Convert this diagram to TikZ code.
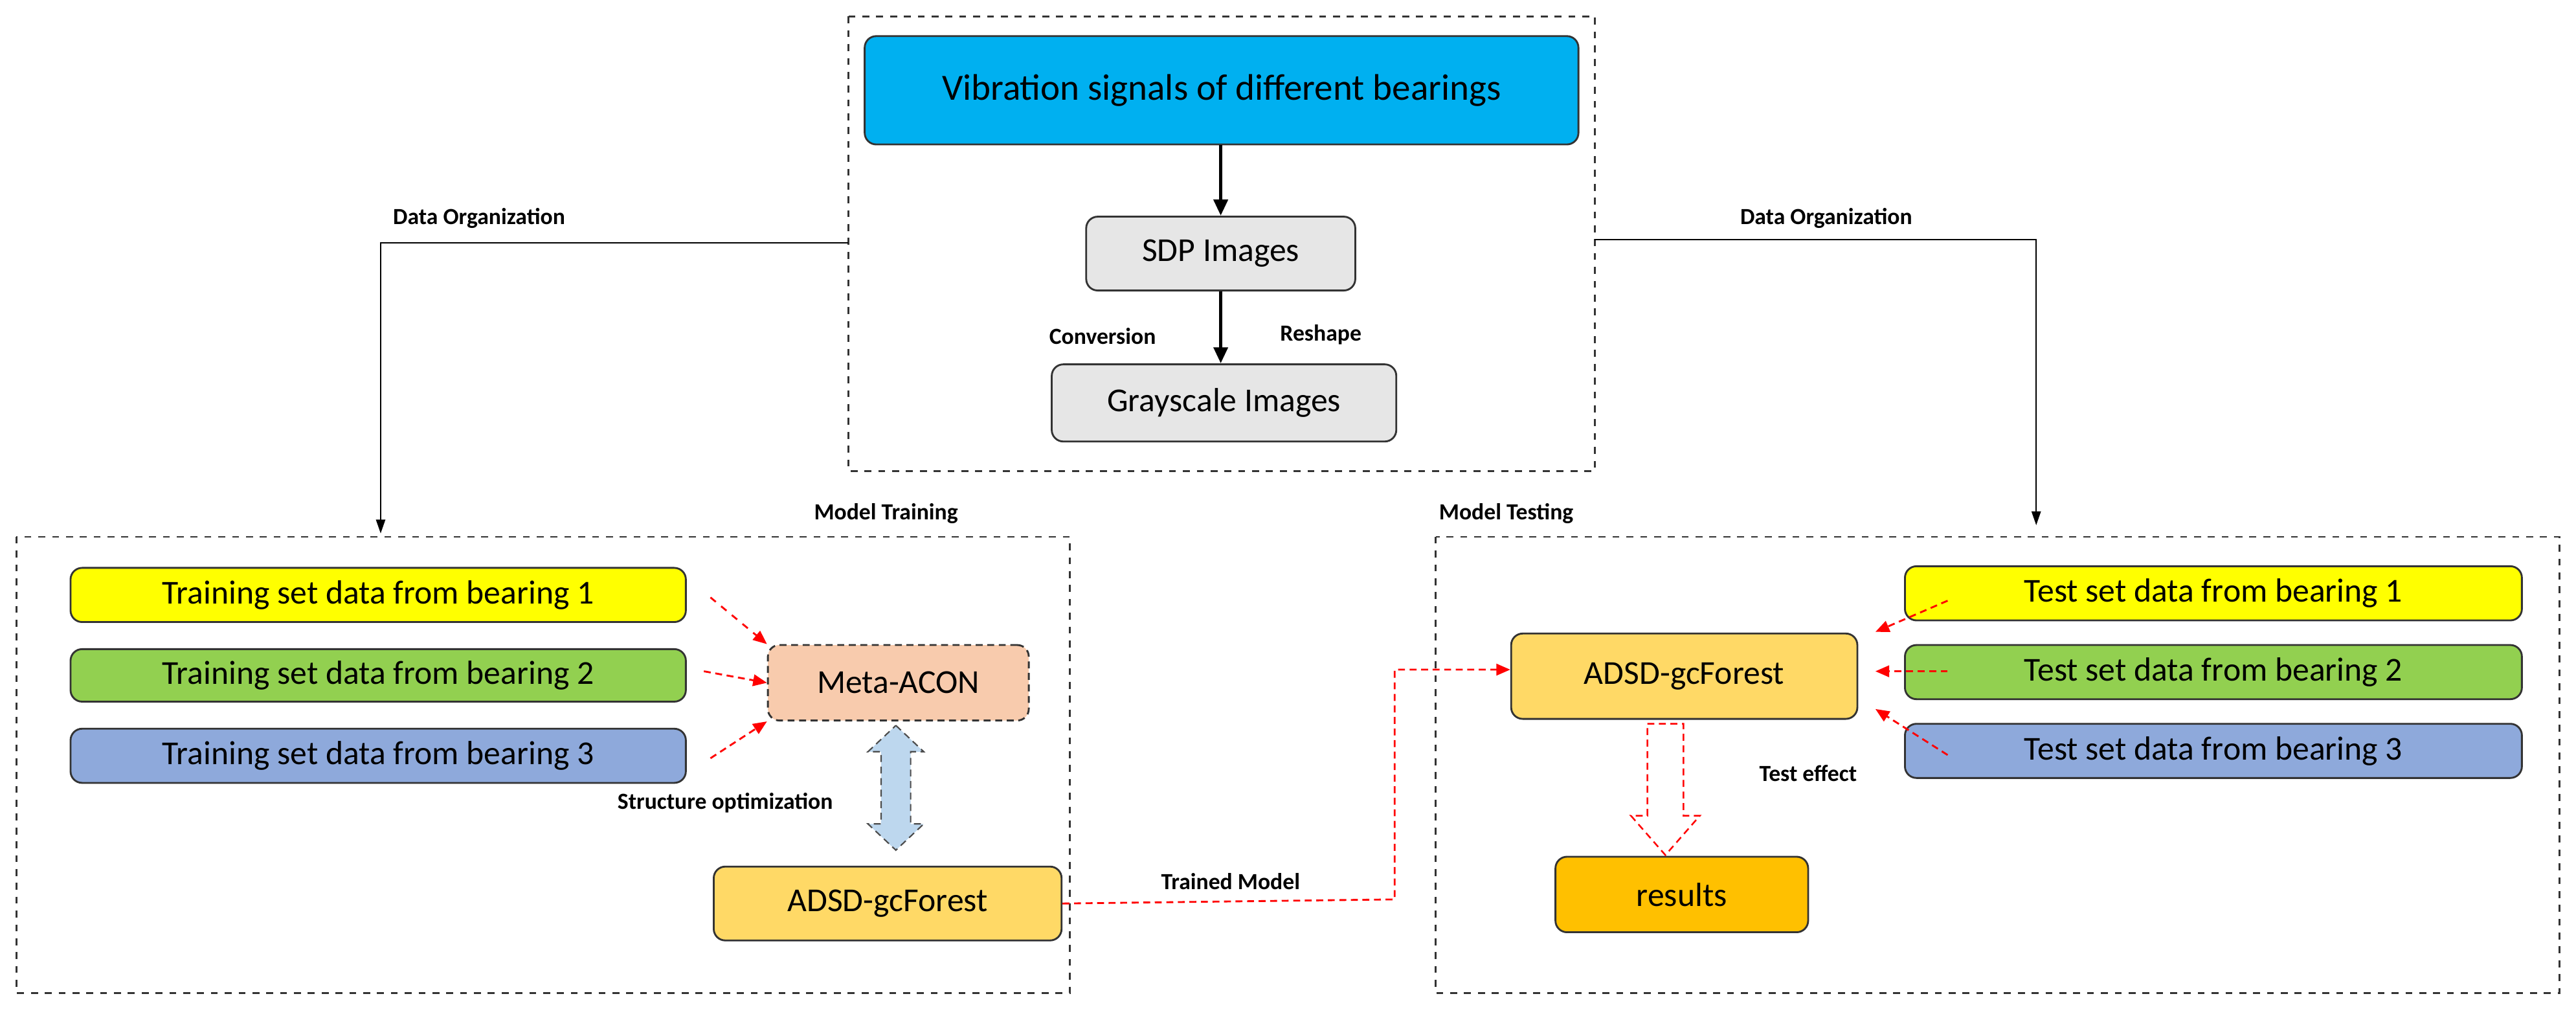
\documentclass[tikz,border=0pt]{standalone}
\usepackage{fontspec}
\setmainfont{Carlito}
\usetikzlibrary{arrows.meta}
\definecolor{cyanb}{RGB}{0,176,240}
\definecolor{grayb}{RGB}{230,230,230}
\definecolor{yel}{RGB}{255,255,0}
\definecolor{grn}{RGB}{146,208,80}
\definecolor{blu}{RGB}{142,169,219}
\definecolor{peach}{RGB}{248,203,173}
\definecolor{gold}{RGB}{255,217,102}
\definecolor{orng}{RGB}{255,192,0}
\definecolor{lblue}{RGB}{189,215,238}
\begin{document}
\begin{tikzpicture}[x=0.025cm,y=-0.025cm,
  box/.style={draw=black!80,line width=0.8pt,rounded corners=5pt,font=\fontsize{14.5}{16}\selectfont,inner sep=0pt},
  frame/.style={draw=black!80,dashed,line width=0.7pt},
  lab/.style={font=\bfseries\fontsize{10}{12}\selectfont},
  blk/.style={-{Triangle[length=6pt,width=4pt]},line width=0.6pt},
  thick arr/.style={-{Triangle[length=7pt,width=6pt]},line width=1.6pt},
  red arr/.style={-{Triangle[length=6pt,width=5pt]},red,densely dashed,line width=0.8pt}]
\useasboundingbox (0,0) rectangle (1570,620);
% frames
\draw[frame] (517,10) rectangle (972,287);
\draw[frame] (10,327) rectangle (652,605);
\draw[frame] (875,327) rectangle (1560,605);
% top nodes
\node[box,fill=cyanb,minimum width=435*0.025cm,minimum height=66*0.025cm,font=\fontsize{16}{18}\selectfont] (vib) at (744.5,55) {Vibration signals of different bearings};
\node[box,fill=grayb,minimum width=164*0.025cm,minimum height=45*0.025cm] (sdp) at (744,154.5) {SDP Images};
\node[box,fill=grayb,minimum width=210*0.025cm,minimum height=47*0.025cm] (gray) at (746,245.5) {Grayscale Images};
\draw[thick arr] (vib.south -| sdp.north) -- (sdp.north);
\draw[thick arr] (sdp.south) -- (sdp.south |- gray.north);
\node[lab] at (672,205) {Conversion};
\node[lab] at (805,204) {Reshape};
% data organization
\coordinate (lt) at (517,148);
\coordinate (lc) at (232,148);
\coordinate (lb) at (232,325);
\draw[blk] (lt) -- (lc) -- (lb);
\node[lab] at (292,133) {Data Organization};
\coordinate (rt) at (972,146);
\coordinate (rc) at (1241,146);
\coordinate (rb) at (1241,320);
\draw[blk] (rt) -- (rc) -- (rb);
\node[lab] at (1113,133) {Data Organization};
\node[lab] at (540,313) {Model Training};
\node[lab] at (918,313) {Model Testing};
% training
\node[box,fill=yel,minimum width=375*0.025cm,minimum height=33*0.025cm] (t1) at (230.5,362.5) {Training set data from bearing 1};
\node[box,fill=grn,minimum width=375*0.025cm,minimum height=32*0.025cm] (t2) at (230.5,411.5) {Training set data from bearing 2};
\node[box,fill=blu,minimum width=375*0.025cm,minimum height=33*0.025cm] (t3) at (230.5,460.5) {Training set data from bearing 3};
\node[box,fill=peach,densely dashed,minimum width=159*0.025cm,minimum height=46*0.025cm] (meta) at (547.5,416) {Meta-ACON};
\node[box,fill=gold,minimum width=212*0.025cm,minimum height=45*0.025cm] (adl) at (541,550.5) {ADSD-gcForest};
\coordinate (a1) at (433,364); \coordinate (a2) at (429,409); \coordinate (a3) at (433,462);
\draw[red arr,dashed] (a1) -- (meta.north west);
\draw[red arr] (a2) -- (meta.west);
\draw[red arr] (a3) -- (meta.south west);
% double arrow
\draw[draw=black!70,densely dashed,fill=lblue,line width=0.6pt]
  (546,442) -- (563,458) -- (555,458) -- (555,502) -- (563,502) -- (546,518)
  -- (529,502) -- (537,502) -- (537,458) -- (529,458) -- cycle;
\node[lab] at (442,489) {Structure optimization};
% testing
\node[box,fill=gold,minimum width=211*0.025cm,minimum height=52*0.025cm] (adr) at (1026.5,412) {ADSD-gcForest};
\node[box,fill=yel,minimum width=376*0.025cm,minimum height=33*0.025cm] (s1) at (1349,361.5) {Test set data from bearing 1};
\node[box,fill=grn,minimum width=376*0.025cm,minimum height=33*0.025cm] (s2) at (1349,409.5) {Test set data from bearing 2};
\node[box,fill=blu,minimum width=376*0.025cm,minimum height=33*0.025cm] (s3) at (1349,457.5) {Test set data from bearing 3};
\coordinate (b1) at (1187,366); \coordinate (b2) at (1187,409); \coordinate (b3) at (1187,460);
\coordinate (e1) at (1143,385); \coordinate (e2) at (1143,409); \coordinate (e3) at (1143,432);
\draw[red arr] (b1) -- (e1);
\draw[red arr] (b2) -- (e2);
\draw[red arr] (b3) -- (e3);
\node[box,fill=orng,minimum width=154*0.025cm,minimum height=46*0.025cm] (res) at (1025,545) {results};
% hollow arrow
\draw[red,densely dashed,fill=white,line width=0.7pt]
  (1004,441) -- (1026,441) -- (1026,497) -- (1036,497) -- (1015,521)
  -- (994,497) -- (1004,497) -- cycle;
\node[lab] at (1102,471) {Test effect};
% trained model
\coordinate (k1) at (850,548);
\coordinate (k2) at (850,408);
\draw[red arr] (adl.east) -- (k1) -- (k2) -- (adr.west |- k2);
\node[lab] at (750,537) {Trained Model};
\end{tikzpicture}
\end{document}
